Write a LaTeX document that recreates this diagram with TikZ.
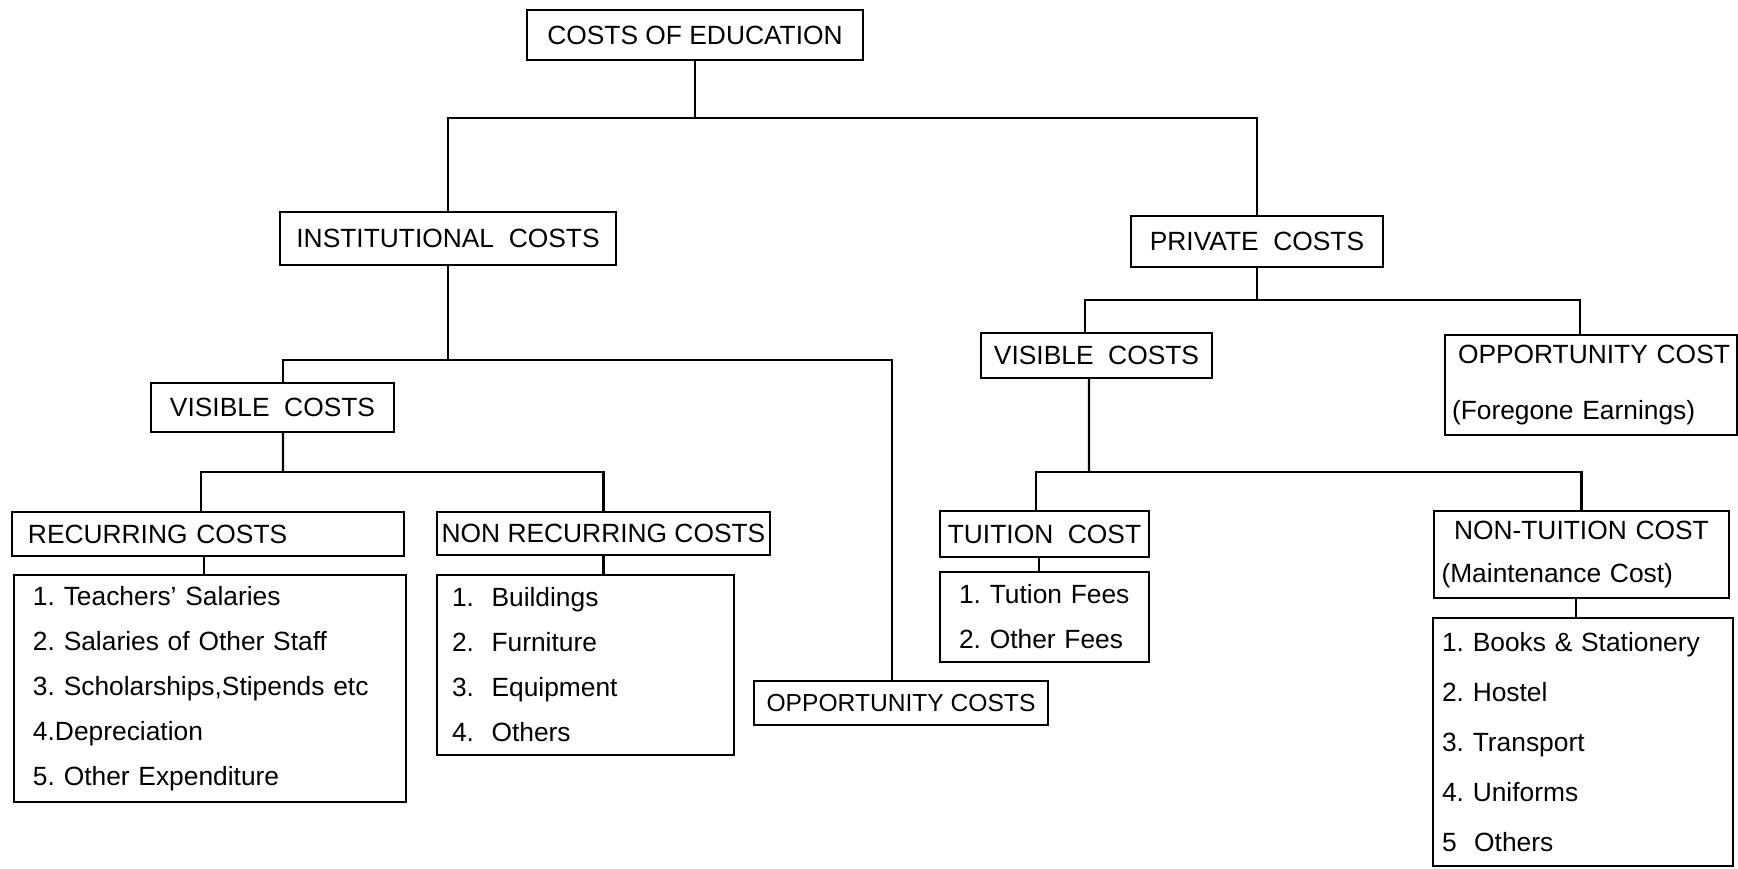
\documentclass[tikz,border=0pt]{standalone}
\usepackage{fontspec}
\setmainfont{Liberation Sans}

\begin{document}
\begin{tikzpicture}[x=0.2mm, y=-0.2mm, line width=1.3pt,
	headbox/.style={draw, inner sep=0pt, font=\fontsize{15}{18}\selectfont},
	itembox/.style={draw, inner ysep=0pt, align=left, font=\fontsize{15}{25.6}\selectfont\frenchspacing}]
\useasboundingbox (0,0) rectangle (1738,869);
% top levels
\node[headbox, minimum width=67.2mm, minimum height=10mm] (edu) at (695,35) {COSTS OF EDUCATION};
\node[headbox, minimum width=67.2mm, minimum height=10.6mm] (inst) at (448,238.5) {INSTITUTIONAL\ \ COSTS};
\node[headbox, minimum width=50.4mm, minimum height=10.2mm] (priv) at (1257,241.5) {PRIVATE\ \ COSTS};
\node[headbox, minimum width=48.6mm, minimum height=9.8mm] (vis1) at (272.5,407.5) {VISIBLE\ \ COSTS};
\node[headbox, minimum width=46.2mm, minimum height=9mm] (vis2) at (1096.5,355.5) {VISIBLE\ \ COSTS};
\node[itembox, text width=55.6mm, inner xsep=1.4mm, minimum height=20mm,
	font=\fontsize{15}{31.9}\selectfont] (opp2) at (1591,385) {\mbox{\hspace*{1.2mm}OPPORTUNITY COST}\\(Foregone Earnings)};
\node[headbox, minimum width=58.8mm, minimum height=8.8mm, font=\fontsize{14}{17}\selectfont] (opp1) at (901,703) {OPPORTUNITY COSTS};
% institutional side
\node[itembox, text width=72mm, inner xsep=3.2mm, minimum height=8.8mm] (rec) at (208,534) {RECURRING COSTS};
\node[headbox, minimum width=66.6mm, minimum height=8.6mm] (nrec) at (603.5,533.5) {NON RECURRING COSTS};
\node[itembox, text width=70.8mm, inner xsep=3.8mm, minimum height=45.4mm] (reclist) at (210,688.5)
	{1. Teachers' Salaries\\2. Salaries of Other Staff\\3. Scholarships,Stipends etc\\4.Depreciation\\5. Other Expenditure};
\node[itembox, text width=53.4mm, inner xsep=3mm, minimum height=36mm] (nreclist) at (585.5,665)
	{1.\ \ Buildings\\2.\ \ Furniture\\3.\ \ Equipment\\4.\ \ Others};
% private side
\node[headbox, minimum width=41.8mm, minimum height=9.2mm] (tui) at (1044.5,534) {TUITION\ \ COST};
\node[itembox, text width=35.8mm, inner xsep=3mm, minimum height=18mm] (tuilist) at (1044.5,617)
	{\hspace*{0.8mm}1.\ Tution Fees\\\hspace*{0.8mm}2. Other Fees};
\node[itembox, text width=56mm, inner xsep=1.5mm, minimum height=17.4mm,
	font=\fontsize{15}{24.5}\selectfont\frenchspacing] (ntui) at (1581.5,554.5) {\hspace*{2.5mm}NON-TUITION COST\\(Maintenance Cost)};
\node[itembox, text width=56.4mm, inner xsep=1.8mm, minimum height=49.6mm,
	font=\fontsize{15}{28.5}\selectfont\frenchspacing] (ntlist) at (1583,742)
	{1. Books \& Stationery\\2. Hostel\\3. Transport\\4. Uniforms\\5\ \ Others};
% connectors
\coordinate (j1) at (695,118);
\coordinate (j2) at (448,360);
\coordinate (j3) at (283,472);
\coordinate (j4) at (1257,300);
\coordinate (j5) at (1089,472);
\draw (edu) -- (j1);
\draw (inst) |- (j1) -| (priv);
\draw (inst) -- (j2);
\draw ([xshift=2.1mm]vis1.north) |- (j2) -| ([xshift=-1.8mm]opp1.north);
\draw ([xshift=2.1mm]vis1.south) -- (j3);
\draw ([xshift=-1.4mm]rec.north) |- (j3) -| (nrec);
\draw ([xshift=-0.8mm]rec.south) -- ([xshift=-0.8mm]rec.south |- reclist.north);
\draw (nrec.south) -- (nrec.south |- nreclist.north);
\draw (priv) -- (j4);
\draw ([xshift=-2.3mm]vis2.north) |- (j4) -| ([xshift=-2.2mm]opp2.north);
\draw ([xshift=-1.5mm]vis2.south) -- (j5);
\draw ([xshift=-1.7mm]tui.north) |- (j5) -| (ntui);
\draw ([xshift=-1.1mm]tui.south) -- ([xshift=-1.1mm]tuilist.north);
\draw ([xshift=-1.1mm]ntui.south) -- ([xshift=-1.1mm]ntui.south |- ntlist.north);
\end{tikzpicture}
\end{document}
